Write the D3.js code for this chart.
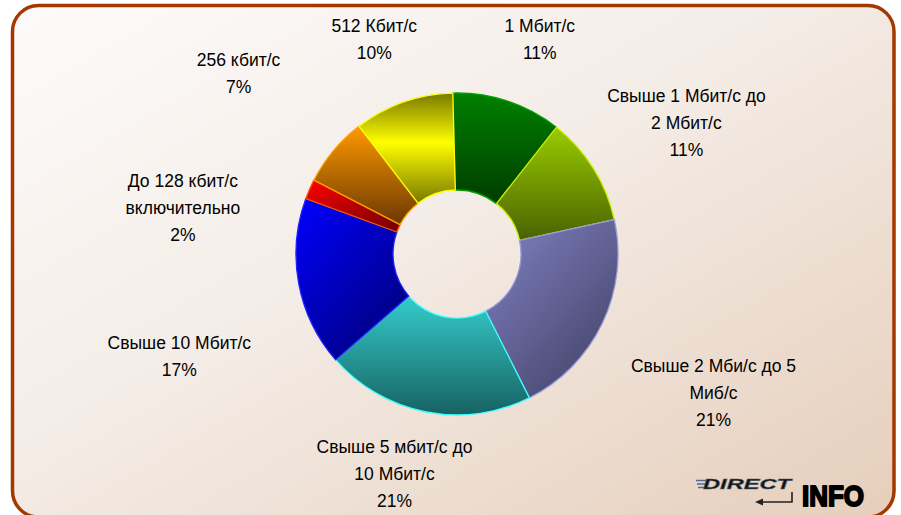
<!DOCTYPE html>
<html>
<head>
<meta charset="utf-8">
<script src="https://cdn.jsdelivr.net/npm/d3@7"></script>
<style>
  body { margin: 0; background: #fff; }
  svg text { font-family: "Liberation Sans Narrow", "Arial Narrow", "Liberation Sans", sans-serif; }
</style>
</head>
<body>
<div id="chart"></div>
<script>
// data, clockwise from the top
var categories = [
    "1 Мбит/с",
    "Свыше 1 Мбит/с до\n2 Мбит/с",
    "Свыше 2 Мби/с до 5\nМиб/с",
    "Свыше 5 мбит/с до\n10 Мбит/с",
    "Свыше 10 Мбит/с",
    "До 128 кбит/с\nвключительно",
    "256 кбит/с",
    "512 Кбит/с"
];
var shares = [11, 11, 21, 21, 17, 2, 7, 10];

// slice look: [light, dark, edge, gradient direction]
var sliceStyle = [
    ["#008000", "#003c00", "#00a000", "v"],
    ["#99cc00", "#4a6200", "#ccee00", "v"],
    ["#8282c4", "#44446a", "#9a9ad8", "d"],
    ["#35cccc", "#176262", "#40ffff", "v"],
    ["#0000ff", "#00007a", "#2020ff", "d"],
    ["#ff0000", "#7a0000", "#ff5000", "d"],
    ["#ff9900", "#6a3800", "#ffa000", "v"],
    ["#ffff00", "#787800", "#ffff00", "y"]
];
// nudges of each label from the label ring
var labelNudge = [[20, -19], [60, -19], [76, 59], [-24, 30], [-81, 72], [-91, 40], [-65, -46], [-16, -20]];

var width = 901, height = 515;
var cx = 457, cy = 254, rOut = 161, rIn = 64, lineH = 27;

var svg = d3.select("#chart").append("svg")
    .attr("width", width)
    .attr("height", height);
var defs = svg.append("defs");

var bg = defs.append("linearGradient").attr("id", "bg")
    .attr("x1", 0).attr("y1", 0).attr("x2", 1).attr("y2", 1);
bg.append("stop").attr("offset", "0%").attr("stop-color", "#fdfbfa");
bg.append("stop").attr("offset", "45%").attr("stop-color", "#f4ece6");
bg.append("stop").attr("offset", "100%").attr("stop-color", "#e6cebb");

svg.append("rect")
    .attr("x", 12.5).attr("y", 5.5)
    .attr("width", 881.5).attr("height", 511.5)
    .attr("rx", 26).attr("ry", 26)
    .attr("fill", "url(#bg)")
    .attr("stroke", "#a33800")
    .attr("stroke-width", 3.5);

sliceStyle.forEach(function(s, i) {
    var g = defs.append("linearGradient").attr("id", "sl" + i)
        .attr("x1", 0).attr("y1", 0)
        .attr("x2", s[3] == "d" ? 0.8 : 0).attr("y2", 1);
    if (s[3] == "y") {
        g.append("stop").attr("offset", "0%").attr("stop-color", s[1]);
        g.append("stop").attr("offset", "45%").attr("stop-color", s[0]);
        g.append("stop").attr("offset", "100%").attr("stop-color", s[1]);
    } else {
        g.append("stop").attr("offset", "0%").attr("stop-color", s[0]);
        g.append("stop").attr("offset", "100%").attr("stop-color", s[1]);
    }
});

var start = -1.5 * Math.PI / 180;
var pie = d3.pie().sort(null).value(function(d) { return d; })
    .startAngle(start).endAngle(start + 2 * Math.PI);
var arcs = pie(shares);
var total = d3.sum(shares);

var arc = d3.arc().innerRadius(rIn).outerRadius(rOut);
var labelArc = d3.arc().innerRadius(200).outerRadius(200);

var g = svg.append("g").attr("transform", "translate(" + cx + "," + cy + ")");

g.selectAll("path.slice").data(arcs)
    .enter().append("path")
        .attr("class", "slice")
        .attr("d", arc)
        .attr("fill", function(d, i) { return "url(#sl" + i + ")"; })
        .attr("stroke", function(d, i) { return sliceStyle[i][2]; })
        .attr("stroke-width", 1.3)
        .attr("stroke-linejoin", "round");

var pct = d3.format(".0%");
g.selectAll("text.lbl").data(arcs)
    .enter().append("text")
        .attr("class", "lbl")
        .attr("text-anchor", "middle")
        .attr("font-size", 17.5)
        .attr("fill", "#000")
        .each(function(d, i) {
            var c = labelArc.centroid(d);
            var x = c[0] + labelNudge[i][0], y = c[1] + labelNudge[i][1];
            var lines = categories[i].split("\n").concat([pct(d.value / total)]);
            var t = d3.select(this);
            lines.forEach(function(l, k) {
                t.append("tspan")
                    .attr("x", x)
                    .attr("y", y + (k - (lines.length - 1) / 2) * lineH)
                    .text(l);
            });
        });

// DIRECT INFO logo
var logo = svg.append("g").attr("transform", "translate(695,0)");
[480.5, 484, 487.5].forEach(function(y, k) {
    logo.append("line")
        .attr("x1", 1 + k).attr("x2", 13 + k)
        .attr("y1", y).attr("y2", y)
        .attr("stroke", "#4d6a99").attr("stroke-width", 1.5);
});
logo.append("text")
    .attr("x", 8).attr("y", 489)
    .attr("font-size", 15).attr("font-style", "italic").attr("font-weight", "bold")
    .attr("font-family", "Liberation Sans, sans-serif")
    .attr("textLength", 88).attr("lengthAdjust", "spacingAndGlyphs")
    .attr("fill", "#111").attr("stroke", "#556677").attr("stroke-width", 0.5)
    .text("DIRECT");
logo.append("path")
    .attr("d", "M97,492 V502 H66")
    .attr("fill", "none").attr("stroke", "#222").attr("stroke-width", 1.6);
logo.append("path")
    .attr("d", "M60,502 L68,498.5 L68,505.5 Z")
    .attr("fill", "#222");
logo.append("text")
    .attr("x", 107).attr("y", 506)
    .attr("font-size", 30).attr("font-weight", "bold")
    .attr("font-family", "DejaVu Sans, sans-serif")
    .attr("textLength", 62).attr("lengthAdjust", "spacingAndGlyphs")
    .attr("fill", "#000").attr("stroke", "#000").attr("stroke-width", 2)
    .attr("stroke-linejoin", "round")
    .text("INFO");
</script>
</body>
</html>
